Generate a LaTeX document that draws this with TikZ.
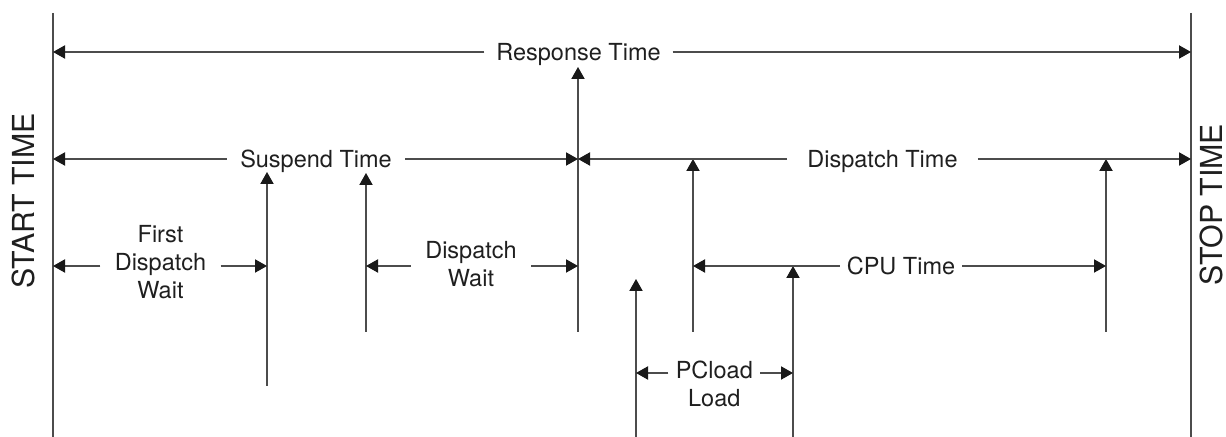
\documentclass[tikz,border=0pt]{standalone}
\usepackage{fontspec}
\setmainfont{TeX Gyre Heros}
\usetikzlibrary{arrows.meta}
\begin{document}
\begin{tikzpicture}[x=0.5pt,y=-0.5pt,
  ln/.style={draw=black!70, line width=0.65pt},
  arr/.style={ln, -{Triangle[length=6pt,width=6.6pt,color=black!90]}},
  lbl/.style={font=\fontsize{11.75}{14}\selectfont, text=black!88, inner ysep=0pt, text height=8.4pt, text depth=0pt},
  mlbl/.style={font=\fontsize{11.75}{14}\selectfont, text=black!88, inner ysep=0pt, align=center},
  side/.style={font=\fontsize{15.15}{18}\selectfont, text=black!88, rotate=90, inner sep=0pt}]
\useasboundingbox (0,0) rectangle (1226,437);

% start / stop lines
\coordinate (Ltop) at (53,13);  \coordinate (Lbot) at (53,437);
\coordinate (Rtop) at (1191,13); \coordinate (Rbot) at (1191,437);
\draw[ln] (Ltop) -- (Lbot);
\draw[ln] (Rtop) -- (Rbot);
\node[side] (start) at (23,201) {START TIME};
\node[side] (stop) at (1211,204.5) {STOP TIME};

% vertical event arrows
\coordinate (v1b) at (267,386);  \coordinate (v1t) at (267,172);
\coordinate (v2b) at (366,332);  \coordinate (v2t) at (366,173);
\coordinate (v3b) at (578,332);  \coordinate (v3t) at (578,67);
\coordinate (v4b) at (636,437);  \coordinate (v4t) at (636,279);
\coordinate (v5b) at (693,332);  \coordinate (v5t) at (693,159);
\coordinate (v6b) at (793,437);  \coordinate (v6t) at (793,266);
\coordinate (v7b) at (1106,332); \coordinate (v7t) at (1106,159);
\draw[arr] (v1b) -- (v1t);
\draw[arr] (v2b) -- (v2t);
\draw[arr] (v3b) -- (v3t);
\draw[arr] (v4b) -- (v4t);
\draw[arr] (v5b) -- (v5t);
\draw[arr] (v6b) -- (v6t);
\draw[arr] (v7b) -- (v7t);

% Response Time
\coordinate (respL) at (53,52); \coordinate (respR) at (1191,52);
\node[lbl, inner xsep=5.75pt] (resp) at (578.5,52) {Response Time};
\draw[arr] (resp) -- (respL);
\draw[arr] (resp) -- (respR);

% Suspend Time
\coordinate (suspL) at (53,159); \coordinate (suspR) at (578,159);
\node[lbl, inner xsep=6.5pt] (susp) at (316,159) {Suspend Time};
\draw[arr] (susp) -- (suspL);
\draw[arr] (susp) -- (suspR);

% Dispatch Time
\coordinate (dispL) at (578,159); \coordinate (dispR) at (1191,159);
\node[lbl, inner xsep=10pt] (disp) at (882.5,159) {Dispatch Time};
\draw[arr] (disp) -- (dispL);
\draw[arr] (disp) -- (dispR);

% First Dispatch Wait
\coordinate (fdwL) at (53,266); \coordinate (fdwR) at (267,266);
\node[mlbl, inner xsep=7pt] (fdw) at (160.5,262.5) {First\\Dispatch\\Wait};
\draw[arr] (fdw.west |- fdwL) -- (fdwL);
\draw[arr] (fdw.east |- fdwR) -- (fdwR);

% Dispatch Wait
\coordinate (dwL) at (366,266); \coordinate (dwR) at (578,266);
\node[mlbl, inner xsep=7pt] (dw) at (471,264) {Dispatch\\Wait};
\draw[arr] (dw.west |- dwL) -- (dwL);
\draw[arr] (dw.east |- dwR) -- (dwR);

% CPU Time
\coordinate (cpuL) at (693,266); \coordinate (cpuR) at (1106,266);
\node[lbl, inner xsep=3.25pt] (cpu) at (901,266) {CPU Time};
\draw[arr] (cpu) -- (cpuL);
\draw[arr] (cpu) -- (cpuR);

% PCload Load
\coordinate (pcL) at (636,373); \coordinate (pcR) at (793,373);
\node[mlbl, inner xsep=3.5pt] (pc) at (714.3,383.6) {PCload\\Load};
\draw[arr] (pc.west |- pcL) -- (pcL);
\draw[arr] (pc.east |- pcR) -- (pcR);
\end{tikzpicture}
\end{document}
